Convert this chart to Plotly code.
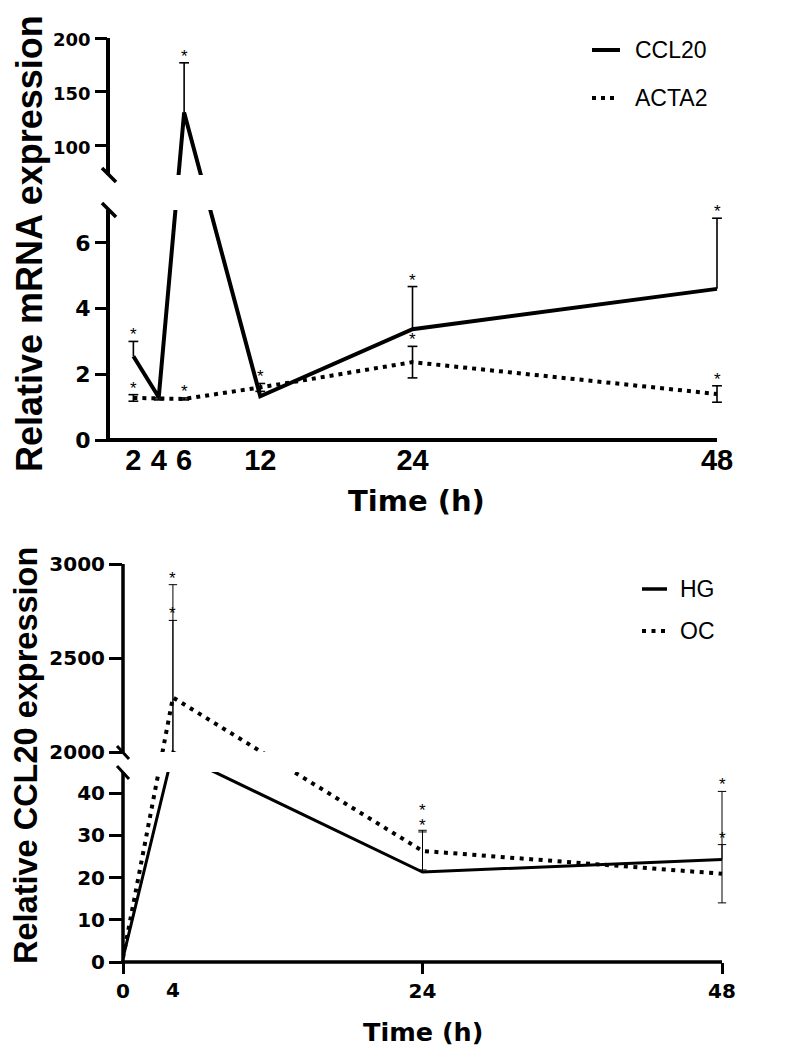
import numpy as np
import plotly.graph_objects as go

# ---------------- data: top panel (CCL20 / ACTA2 time course) ----------------
time_top = [2, 4, 6, 12, 24, 48]
ccl20 = [2.55, 1.3, 131, 1.33, 3.37, 4.6]
ccl20_sem = [0.45, 0, 46, 0, 1.3, 2.15]          # drawn upward only
ccl20_sig = [True, False, True, False, True, True]
acta2 = [1.28, 1.25, 1.25, 1.6, 2.37, 1.4]
acta2_sem = [0.1, 0.03, 0.03, 0.12, 0.48, 0.25]  # drawn both ways
acta2_sig = [True, False, True, True, True, True]
top_xticks = [2, 4, 6, 12, 24, 48]
top_yticks_low = [0, 2, 4, 6]
top_yticks_up = [100, 150, 200]

# ---------------- data: bottom panel (HG / OC CCL20) ----------------
time_bot = [0, 4, 24, 48]
hg = [1, 2000, 21.3, 24.3]
hg_sem = [0, 700, 9.9, 16.1]                     # drawn upward only
hg_sig = [False, True, True, True]
oc = [1, 2290, 26.3, 20.9]
oc_sem = [0, 600, 4.5, 6.9]                      # drawn both ways
oc_sig = [False, True, True, True]
bot_xticks = [0, 24, 48]
bot_xlabels_only = [4]
bot_yticks = [0, 10, 20, 30, 40, 2000, 2500, 3000]

# ---------------- broken-axis scales (value -> px above the x axis) ----------------
TOP_V = [0, 7, 73, 200, 1000]
TOP_P = [0, 230, 265, 402, 402 + 800 * 1.08]
BOT_V = [0, 45, 2000, 3000, 6000]
BOT_P = [0, 190, 210, 398, 398 + 3000 * 0.188]


def ftop(v):
    return np.interp(np.asarray(v, float), TOP_V, TOP_P)


def fbot(v):
    return np.interp(np.asarray(v, float), BOT_V, BOT_P)


# page body has an 8px margin: the figure is drawn 8px in from the top-left
OFF = 8
W, H = 788 - OFF, 1050 - OFF
XMAX = 50
TOP_AX_X, TOP_AX_Y, TOP_PPH, TOP_PR = 108, 440, 609 / 48, 410
BOT_AX_X, BOT_AX_Y, BOT_PPH, BOT_PR = 123, 962, 599 / 48, 412
TOP_GAP = (230, 265)
BOT_GAP = (190, 210)

DJ = "DejaVu Sans"
LB = "Liberation Sans"


def px(x):
    return (x - OFF) / W


def py(y):
    return 1 - (y - OFF) / H


fig = go.Figure()


def add_errors(t, v, e, f, both, lw, cap, xa, ya):
    xs, ys, cx, cy = [], [], [], []
    for ti, vi, ei in zip(t, v, e):
        if ei <= 0:
            continue
        lo = vi - ei if both else vi
        hi = vi + ei
        xs += [ti, ti, None]
        ys += [float(f(lo)), float(f(hi)), None]
        cx.append(ti)
        cy.append(float(f(hi)))
        if both:
            cx.append(ti)
            cy.append(float(f(lo)))
    fig.add_trace(go.Scatter(x=xs, y=ys, mode="lines", line=dict(color="black", width=lw),
                             xaxis=xa, yaxis=ya, hoverinfo="skip", showlegend=False))
    fig.add_trace(go.Scatter(x=cx, y=cy, mode="markers", cliponaxis=False,
                             marker=dict(symbol="line-ew", size=cap, line=dict(color="black", width=lw)),
                             xaxis=xa, yaxis=ya, hoverinfo="skip", showlegend=False))


def add_line(t, v, f, lw, dash, xa, ya):
    fig.add_trace(go.Scatter(x=t, y=list(f(v)), mode="lines",
                             line=dict(color="black", width=lw, dash=dash),
                             xaxis=xa, yaxis=ya, hoverinfo="skip", showlegend=False))


# top panel
add_errors(time_top, ccl20, ccl20_sem, ftop, False, 1.6, 7, "x", "y")
add_errors(time_top, acta2, acta2_sem, ftop, True, 1.6, 7, "x", "y")
add_line(time_top, ccl20, ftop, 4, "solid", "x", "y")
add_line(time_top, acta2, ftop, 4, "4px,5px", "x", "y")

# bottom panel
add_errors(time_bot, hg, hg_sem, fbot, False, 1, 6, "x2", "y2")
add_errors(time_bot, oc, oc_sem, fbot, True, 1, 6, "x2", "y2")
add_line(time_bot, hg, fbot, 3, "solid", "x2", "y2")
add_line(time_bot, oc, fbot, 4, "4px,5.5px", "x2", "y2")

# significance stars
annotations = []


def add_stars(groups, f, xref, yref):
    per_t = {}
    for t, v, e, sig in groups:
        for ti, vi, ei, si in zip(t, v, e, sig):
            if si:
                per_t.setdefault(ti, []).append(float(f(vi + ei)))
    for ti, caps in per_t.items():
        last = -1e9
        for c in sorted(caps):
            p = max(c + 11, last + 15)
            last = p
            annotations.append(dict(x=ti, y=p, xref=xref, yref=yref, text="*", showarrow=False,
                                    xanchor="center", yanchor="middle", yshift=-4, height=12,
                                    borderpad=0, valign="middle",
                                    font=dict(family=LB, size=17, color="black")))


add_stars([(time_top, ccl20, ccl20_sem, ccl20_sig), (time_top, acta2, acta2_sem, acta2_sig)], ftop, "x", "y")
add_stars([(time_bot, hg, hg_sem, hg_sig), (time_bot, oc, oc_sem, oc_sig)], fbot, "x2", "y2")

# ---------------- shapes: gap masks, axis lines, break marks, legend samples ----------------
shapes = []
shapes.append(dict(type="rect", xref="x", yref="y", x0=0, x1=XMAX, y0=TOP_GAP[0], y1=TOP_GAP[1],
                   fillcolor="white", line=dict(width=0), layer="above"))
shapes.append(dict(type="rect", xref="x2", yref="y2", x0=0, x1=XMAX, y0=BOT_GAP[0], y1=BOT_GAP[1],
                   fillcolor="white", line=dict(width=0), layer="above"))


def seg(x0, y0, x1, y1, w, dash="solid"):
    shapes.append(dict(type="line", xref="paper", yref="paper", x0=px(x0), y0=py(y0), x1=px(x1), y1=py(y1),
                       line=dict(color="black", width=w, dash=dash), layer="above"))


# top axes
tw = 4
seg(TOP_AX_X, TOP_AX_Y + 2, TOP_AX_X, TOP_AX_Y - TOP_GAP[0], tw)
seg(TOP_AX_X, TOP_AX_Y - TOP_GAP[1], TOP_AX_X, TOP_AX_Y - float(ftop(200)), tw)
seg(TOP_AX_X - 2, TOP_AX_Y, TOP_AX_X + 48 * TOP_PPH, TOP_AX_Y, tw)
for g in TOP_GAP:
    yb = TOP_AX_Y - g
    seg(TOP_AX_X - 6, yb - 7, TOP_AX_X + 8, yb + 7, 3.5)

# bottom axes
bw = 3.5
seg(BOT_AX_X, BOT_AX_Y + 1.75, BOT_AX_X, BOT_AX_Y - BOT_GAP[0], bw)
seg(BOT_AX_X, BOT_AX_Y - BOT_GAP[1], BOT_AX_X, BOT_AX_Y - float(fbot(3000)), bw)
seg(BOT_AX_X - 1.75, BOT_AX_Y, BOT_AX_X + 48 * BOT_PPH, BOT_AX_Y, bw)
for g in BOT_GAP:
    yb = BOT_AX_Y - g
    seg(BOT_AX_X - 6, yb - 6, BOT_AX_X + 6, yb + 7, 3)

# legends
seg(592, 50, 620, 50, 4)
seg(592, 98, 617, 98, 4, "4px,5px")
seg(642, 589, 667, 589, 3.5)
seg(642, 631, 666, 631, 4, "4px,5.5px")


def label(x, y, text, family, size, bold=False, angle=0, xanchor="center"):
    annotations.append(dict(x=px(x), y=py(y), xref="paper", yref="paper", text=text, showarrow=False,
                            xanchor=xanchor, yanchor="middle", textangle=angle,
                            font=dict(family=family, size=size, color="black",
                                      weight="bold" if bold else "normal")))


label(633, 50, "CCL20", LB, 23, xanchor="left")
label(633, 98, "ACTA2", LB, 23, xanchor="left")
label(678, 589, "HG", LB, 23, xanchor="left")
label(678, 631, "OC", LB, 23, xanchor="left")

label(29, 244, "Relative mRNA expression", LB, 36, bold=True, angle=-90)
label(416, 501, "Time (h)", DJ, 29, bold=True)
label(26, 756, "Relative CCL20 expression", LB, 32.5, bold=True, angle=-90)
label(423, 1032, "Time (h)", DJ, 25.5, bold=True)

# x label "4" of the bottom panel has no tick mark
for t in bot_xlabels_only:
    annotations.append(dict(x=t, y=py(BOT_AX_Y), xref="x2", yref="paper", text=str(t), showarrow=False,
                            xanchor="center", yanchor="top", yshift=-14,
                            font=dict(family=DJ, size=20, color="black", weight="bold")))

# ---------------- axes ----------------
top_xdom = [px(TOP_AX_X), px(TOP_AX_X + XMAX * TOP_PPH)]
top_ydom = [py(TOP_AX_Y), py(TOP_AX_Y - TOP_PR)]
bot_xdom = [px(BOT_AX_X), px(BOT_AX_X + XMAX * BOT_PPH)]
bot_ydom = [py(BOT_AX_Y), py(BOT_AX_Y - BOT_PR)]

common = dict(showgrid=False, zeroline=False, showline=False, fixedrange=True, automargin=False)

top_yvals = list(ftop(top_yticks_low)) + list(ftop(top_yticks_up))
top_ytext = [str(v) for v in top_yticks_low] + \
            ['<span style="font-size:18px">%d</span>' % v for v in top_yticks_up]

fig.update_layout(
    width=W, height=H,
    margin=dict(l=0, r=0, t=0, b=0),
    paper_bgcolor="white", plot_bgcolor="rgba(0,0,0,0)",
    showlegend=False, hovermode=False,
    xaxis=dict(domain=top_xdom, range=[0, XMAX], anchor="y", tickvals=top_xticks,
               ticktext=[str(v) for v in top_xticks], ticks="",
               tickfont=dict(family=LB, size=29, color="black", weight="bold"), **common),
    yaxis=dict(domain=top_ydom, range=[0, TOP_PR], anchor="x", tickvals=top_yvals,
               ticktext=top_ytext, ticks="outside", ticklen=12, tickwidth=3,
               tickcolor="black", tickfont=dict(family=DJ, size=22, color="black", weight="bold"), **common),
    xaxis2=dict(domain=bot_xdom, range=[0, XMAX], anchor="y2", tickvals=bot_xticks,
                ticktext=[str(v) for v in bot_xticks], ticks="outside", ticklen=11, tickwidth=3,
                tickcolor="black", tickfont=dict(family=DJ, size=20, color="black", weight="bold"), **common),
    yaxis2=dict(domain=bot_ydom, range=[0, BOT_PR], anchor="x2", tickvals=list(fbot(bot_yticks)),
                ticktext=[str(v) for v in bot_yticks], ticks="outside", ticklen=13, tickwidth=3,
                tickcolor="black", tickfont=dict(family=DJ, size=20, color="black", weight="bold"), **common),
    shapes=shapes,
    annotations=annotations,
)

fig.write_html("out.html")
